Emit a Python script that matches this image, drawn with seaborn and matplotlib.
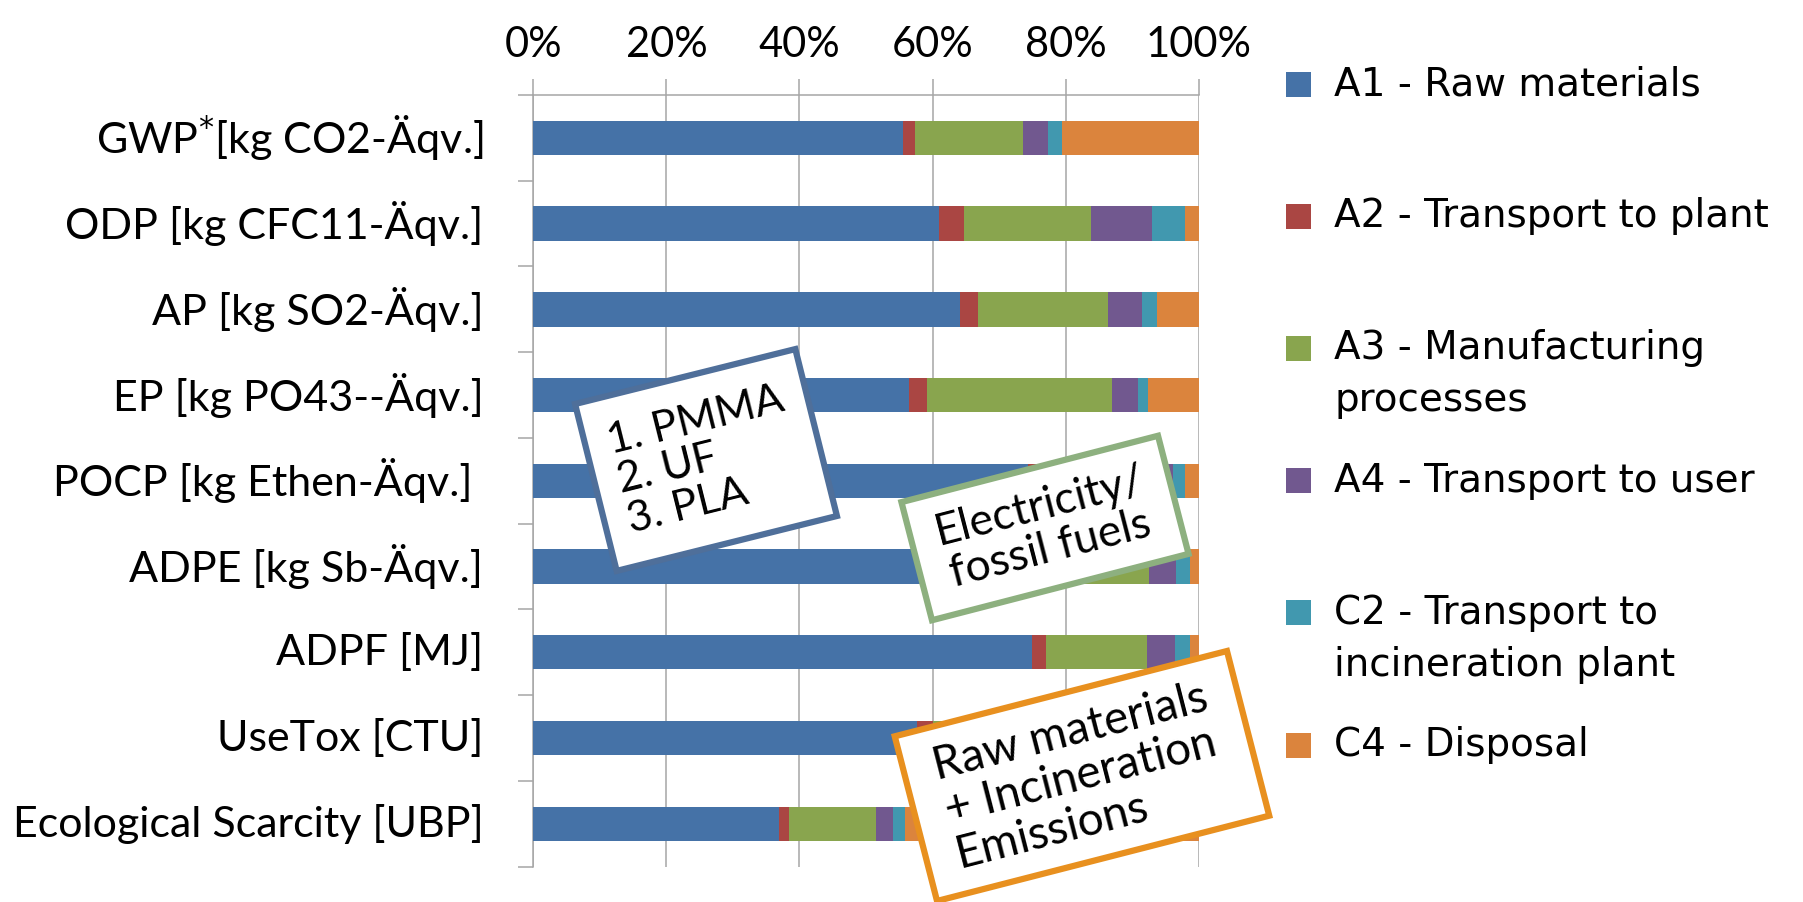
import numpy as np
import pandas as pd
import matplotlib
matplotlib.use("Agg")
import matplotlib.pyplot as plt
import matplotlib.transforms as mtransforms
from matplotlib.patches import Rectangle
import seaborn as sns

# Impact categories (rows, top to bottom)
categories = [
    r"GWP$^{*}$[kg CO2-Äqv.]",
    "ODP [kg CFC11-Äqv.]",
    "AP [kg SO2-Äqv.]",
    "EP [kg PO43--Äqv.]",
    "POCP [kg Ethen-Äqv.] ",
    "ADPE [kg Sb-Äqv.]",
    "ADPF [MJ]",
    "UseTox [CTU]",
    "Ecological Scarcity [UBP]",
]

# Life-cycle stages
stages = [
    "A1 - Raw materials",
    "A2 - Transport to plant",
    "A3 - Manufacturing\nprocesses",
    "A4 - Transport to user",
    "C2 - Transport to\nincineration plant",
    "C4 - Disposal",
]
stage_colors = ["#4572A7", "#AA4643", "#89A54E", "#71588F", "#4198AF", "#DB843D"]

# Share of each stage per impact category [%]
a1 = [55.5, 61.0, 64.1, 56.5, 74.3, 71.0, 74.9, 57.7, 37.0]
a2 = [1.9, 3.7, 2.8, 2.6, 2.5, 2.3, 2.1, 2.3, 1.5]
a3 = [16.2, 19.1, 19.4, 27.8, 16.5, 19.3, 15.2, 12.0, 13.0]
a4 = [3.8, 9.2, 5.2, 4.0, 2.9, 4.0, 4.2, 3.0, 2.6]
c2 = [2.1, 4.9, 2.3, 1.5, 1.8, 2.1, 2.3, 1.8, 1.8]
c4 = [20.5, 2.1, 6.2, 7.6, 2.0, 1.3, 1.3, 23.2, 44.1]

# Annotation texts
note_materials = "1. PMMA\n2. UF\n3. PLA"
note_energy = "Electricity/\nfossil fuels"
note_emissions = "Raw materials\n+ Incineration\nEmissions"

sns.set_theme(style="white")
plt.rcParams["font.family"] = ["Lato", "DejaVu Sans"]

W, H, DPI = 1803, 902, 100
GRID = "#a6a6a6"
fig = plt.figure(figsize=(W / DPI, H / DPI), dpi=DPI)
fig.patch.set_facecolor("white")
ax = fig.add_axes([533.3 / W, 1 - 866.7 / H, (1198.7 - 533.3) / W, (866.7 - 95) / H])

shares = np.column_stack([a1, a2, a3, a4, c2, c4])
shares = 100 * shares / shares.sum(axis=1, keepdims=True)
cum = shares.cumsum(axis=1)

# stacked bars: draw cumulative totals from the last stage to the first
for k in reversed(range(len(stages))):
    d = pd.DataFrame({"category": categories, "value": cum[:, k]})
    sns.barplot(data=d, x="value", y="category", order=categories, orient="h",
                color=stage_colors[k], saturation=1, width=0.4, errorbar=None,
                linewidth=0, ax=ax, zorder=3)

ax.set_xlim(0, 100)
ax.set_ylim(len(categories) - 0.5, -0.5)
ax.set_xlabel("")
ax.set_ylabel("")

ax.xaxis.tick_top()
ax.set_xticks(np.arange(0, 101, 20))
ax.set_xticklabels([f"{v}%" for v in range(0, 101, 20)])
ax.tick_params(axis="x", top=True, bottom=False, labeltop=True, labelbottom=False,
               length=11.5, width=1.1, color=GRID, pad=11, labelsize=30, labelcolor="black")
ax.grid(axis="x", color=GRID, linewidth=1.1, zorder=0)
ax.grid(axis="y", visible=False)
ax.set_axisbelow(True)

ax.set_yticks(range(len(categories)))
ax.set_yticklabels(categories)
ax.set_yticks(np.arange(-0.5, len(categories), 1), minor=True)
ax.tick_params(axis="y", which="major", left=False, length=0, pad=36, labelsize=31,
               labelcolor="black")
ax.tick_params(axis="y", which="minor", left=True, length=11, width=1.1, color=GRID)
for lbl in ax.get_yticklabels():
    lbl.set_verticalalignment("center")

for side in ["right", "bottom"]:
    ax.spines[side].set_visible(False)
for side in ["top", "left"]:
    ax.spines[side].set_visible(True)
    ax.spines[side].set_color(GRID)
    ax.spines[side].set_linewidth(1.1)

# legend on the right
sq = 25
for i, (lab, col) in enumerate(zip(stages, stage_colors)):
    ry = 84 + 132.2 * i
    fig.add_artist(Rectangle((1286 / W, 1 - (ry + sq / 2) / H), sq / W, sq / H,
                             transform=fig.transFigure, fc=col, ec="none"))
    for j, line in enumerate(lab.split("\n")):
        fig.text(1334 / W, 1 - (ry + 52 * j) / H, line, ha="left", va="center",
                 fontsize=28, family="DejaVu Sans", color="black")


def tilted_note(cx, cy, w, h, angle, edge, text, align, size):
    tr = (mtransforms.Affine2D().rotate_deg_around(cx, H - cy, angle).scale(1 / DPI)
          + fig.dpi_scale_trans)
    fig.add_artist(Rectangle((cx - w / 2, H - cy - h / 2), w, h, transform=tr,
                             fc="white", ec=edge, lw=4.5, zorder=10))
    fig.text(cx / W, 1 - cy / H, text, rotation=angle, rotation_mode="anchor",
             ha="center", va="center", multialignment=align, fontsize=size,
             color="black", zorder=11, linespacing=1.1)


tilted_note(706, 460, 227, 172, 14, "#4F6F9A", note_materials, "left", 31)
tilted_note(1045, 528, 265, 122, 14.5, "#8DB07F", note_energy, "center", 32)
tilted_note(1082, 776, 343, 170, 14.4, "#E8901F", note_emissions, "left", 33)

fig.savefig("out.png", dpi=DPI, facecolor="white")
